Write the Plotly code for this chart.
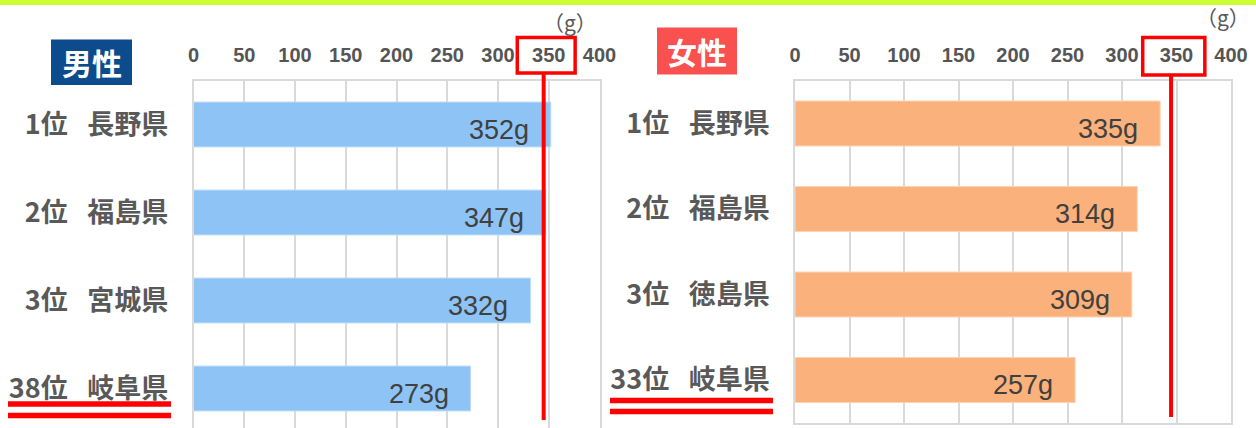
import plotly.graph_objects as go

# ---- data ----
SP = "\u2002 "
male_labels = ["1位" + SP + "長野県", "2位" + SP + "福島県", "3位" + SP + "宮城県", "38位" + SP + "岐阜県"]
male_values = [352, 347, 332, 273]
female_labels = ["1位" + SP + "長野県", "2位" + SP + "福島県", "3位" + SP + "徳島県", "33位" + SP + "岐阜県"]
female_values = [335, 314, 309, 257]
x_ticks = [0, 50, 100, 150, 200, 250, 300, 350, 400]
unit_label = "（g）"
marker_value = 345          # red reference line (drawn near 350)
box_range = [319, 376]      # red box around the "350" tick label

W, H = 1256, 428


def px(x):
    return x / W


def py(y):
    return 1 - y / H


GRAY = "#595959"
GRID = "#d9d9d9"
BLUE = "#8ec3f5"
ORANGE = "#fab17c"
RED = "#ff0000"

rows = list(range(len(male_values)))

fig = go.Figure()
fig.add_trace(go.Bar(
    x=male_values, y=rows, orientation="h", width=0.51,
    marker=dict(color=BLUE, line=dict(color="#bcdcfa", width=1)),
    xaxis="x", yaxis="y", hoverinfo="skip", showlegend=False))
fig.add_trace(go.Bar(
    x=female_values, y=rows, orientation="h", width=0.526,
    marker=dict(color=ORANGE, line=dict(color="#fdd3b5", width=1)),
    xaxis="x2", yaxis="y2", hoverinfo="skip", showlegend=False))

tickfont = dict(family="Liberation Sans, Arial", size=20, color="#555555", weight="bold")
catfont = dict(family="Noto Sans CJK JP", size=27, color=GRAY, weight="bold")

common_x = dict(range=[0, 400], tickvals=x_ticks, side="top", showgrid=True,
                gridcolor=GRID, gridwidth=1.5, showline=True, mirror=True,
                linecolor=GRID, linewidth=1.5, zeroline=False, ticks="",
                tickfont=tickfont, ticklabelstandoff=9, fixedrange=True,
                automargin=False)
common_y = dict(tickvals=rows, showgrid=False, showline=True, mirror=True,
                linecolor=GRID, linewidth=1.5, zeroline=False, ticks="",
                tickfont=catfont, ticklabelstandoff=18, fixedrange=True,
                automargin=False)

fig.update_layout(
    template="none",
    width=W, height=H, margin=dict(l=0, r=0, t=0, b=0, pad=0, autoexpand=False),
    paper_bgcolor="white", plot_bgcolor="white", bargap=0.49,
    xaxis=dict(domain=[px(193.5), px(599.5)], anchor="y", **common_x),
    yaxis=dict(domain=[0, py(80.5)], anchor="x", range=[-0.5 + (428 - 80.5) / 88, -0.5],
               ticktext=male_labels, **common_y),
    xaxis2=dict(domain=[px(795), px(1231)], anchor="y2", **common_x),
    yaxis2=dict(domain=[py(422.75), py(80.75)], anchor="x2", range=[3.5, -0.5],
                ticktext=female_labels, **common_y),
)

shapes = []
annotations = []

# top lime band
shapes.append(dict(type="rect", xref="paper", yref="paper", x0=0, x1=1,
                   y0=py(5), y1=1, fillcolor="#ccff33", line=dict(width=0), layer="above"))

# value labels
valfont = dict(family="Liberation Sans, Arial", size=27, color="#404040")
for xa, ya, vals in (("x", "y", male_values), ("x2", "y2", female_values)):
    for i, v in enumerate(vals):
        annotations.append(dict(xref=xa, yref=ya, x=v, y=rows[i], text=f"{v}g",
                                showarrow=False, xanchor="right", yanchor="middle",
                                xshift=-20, yshift=-5, font=valfont))

# red reference line + box per panel
for xa, top, bottom in (("x", 73, 420), ("x2", 75, 417)):
    shapes.append(dict(type="line", xref=xa, yref="paper", x0=marker_value, x1=marker_value,
                       y0=py(bottom), y1=py(top), line=dict(color=RED, width=4), layer="above"))
    shapes.append(dict(type="rect", xref=xa, yref="paper", x0=box_range[0], x1=box_range[1],
                       y0=py(top), y1=py(37.5), line=dict(color=RED, width=3.5), layer="above"))

# unit labels
unitfont = dict(family="Noto Sans CJK JP", size=21, color=GRAY)
annotations.append(dict(xref="paper", yref="paper", x=px(570), y=py(22), text=unit_label,
                        showarrow=False, xanchor="center", yanchor="middle", font=unitfont))
annotations.append(dict(xref="paper", yref="paper", x=px(1223), y=py(17), text=unit_label,
                        showarrow=False, xanchor="center", yanchor="middle", font=unitfont))

# title boxes
titlefont = dict(family="Noto Sans CJK JP", size=30, color="white", weight="bold")
for (x0, y0, x1, y1, col, txt) in ((51, 39.5, 132, 85, "#0d4c8c", "男性"),
                                   (657, 27.5, 737, 74.5, "#f95050", "女性")):
    shapes.append(dict(type="rect", xref="paper", yref="paper", x0=px(x0), x1=px(x1),
                       y0=py(y1), y1=py(y0), fillcolor=col, line=dict(width=0)))
    annotations.append(dict(xref="paper", yref="paper", x=px((x0 + x1) / 2), y=py((y0 + y1) / 2),
                            text=txt, showarrow=False, xanchor="center", yanchor="middle",
                            font=titlefont))

# red double underline under the Gifu rows
for (x0, x1, ya, yb) in ((8, 171, 404, 415.5), (610, 773, 400.5, 411.5)):
    for yc in (ya, yb):
        shapes.append(dict(type="rect", xref="paper", yref="paper", x0=px(x0), x1=px(x1),
                           y0=py(yc + 2.7), y1=py(yc - 2.7), fillcolor=RED, line=dict(width=0)))

fig.update_layout(shapes=shapes, annotations=annotations)
fig.write_html("out.html", config={"displayModeBar": False},
               post_script="document.body.style.margin='0px';document.body.style.overflow='hidden';")
